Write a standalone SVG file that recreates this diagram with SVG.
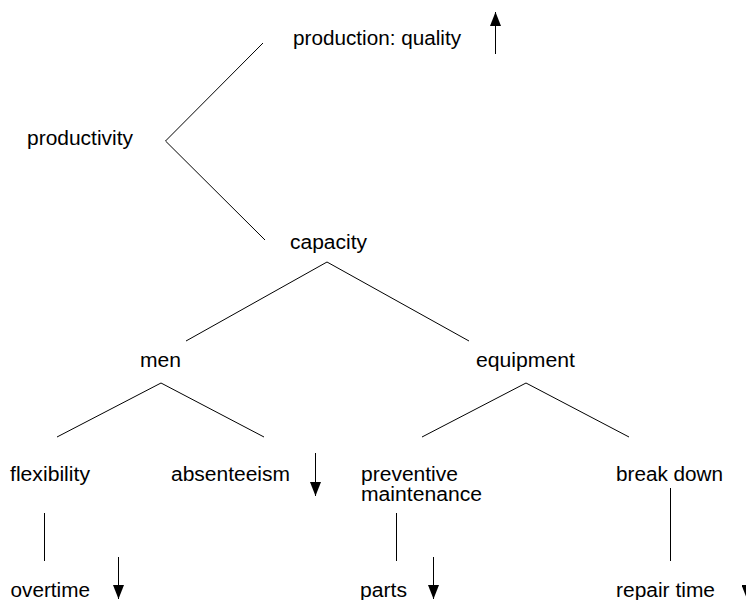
<svg xmlns="http://www.w3.org/2000/svg" width="746" height="600" viewBox="0 0 746 600">
<defs>
<marker id="ah" markerUnits="userSpaceOnUse" markerWidth="14" markerHeight="11" refX="14" refY="5.5" orient="auto" viewBox="0 0 14 11">
<path d="M0,0 L14,5.5 L0,11 z" fill="#000"/>
</marker>
</defs>
<style>
text{font-family:"Liberation Sans",Arial,sans-serif;font-size:20px;fill:#000}
.c line,.c polyline{stroke:#000;stroke-width:1;fill:none}
.a{marker-end:url(#ah)}
</style>
<rect width="746" height="600" fill="#fff"/>
<g class="c" id="connectors">
<polyline points="263,43 165.5,141 265,240"/>
<polyline points="186,341 327,262 469,341"/>
<polyline points="57,437 161,383 264,437"/>
<polyline points="422,437 526,383 629,437"/>
<line x1="44.5" y1="513" x2="44.5" y2="561"/>
<line x1="396.5" y1="513" x2="396.5" y2="561"/>
<line x1="670.5" y1="488" x2="670.5" y2="561"/>
<line class="a" x1="495.5" y1="54" x2="495.5" y2="12"/>
<line class="a" x1="315.5" y1="453" x2="315.5" y2="496"/>
<line class="a" x1="118.5" y1="557" x2="118.5" y2="599"/>
<line class="a" x1="433.5" y1="557" x2="433.5" y2="599"/>
<line class="a" x1="747" y1="557" x2="747" y2="599"/>
</g>
<g id="n-quality"><text x="293" y="45" textLength="168" lengthAdjust="spacingAndGlyphs">production: quality</text></g>
<g id="n-productivity"><text x="27" y="145" textLength="106" lengthAdjust="spacingAndGlyphs">productivity</text></g>
<g id="n-capacity"><text x="290" y="249" textLength="77" lengthAdjust="spacingAndGlyphs">capacity</text></g>
<g id="n-men"><text x="140" y="367" textLength="41" lengthAdjust="spacingAndGlyphs">men</text></g>
<g id="n-equipment"><text x="476" y="367" textLength="99" lengthAdjust="spacingAndGlyphs">equipment</text></g>
<g id="n-flexibility"><text x="10" y="481" textLength="80" lengthAdjust="spacingAndGlyphs">flexibility</text></g>
<g id="n-absenteeism"><text x="171" y="481" textLength="119" lengthAdjust="spacingAndGlyphs">absenteeism</text></g>
<g id="n-preventive"><text x="361" y="481" textLength="97" lengthAdjust="spacingAndGlyphs">preventive</text><text x="361" y="501" textLength="121" lengthAdjust="spacingAndGlyphs">maintenance</text></g>
<g id="n-breakdown"><text x="616" y="481" textLength="107" lengthAdjust="spacingAndGlyphs">break down</text></g>
<g id="n-overtime"><text x="10.5" y="597" textLength="79.5" lengthAdjust="spacingAndGlyphs">overtime</text></g>
<g id="n-parts"><text x="360" y="597" textLength="47" lengthAdjust="spacingAndGlyphs">parts</text></g>
<g id="n-repair"><text x="616" y="597" textLength="99" lengthAdjust="spacingAndGlyphs">repair time</text></g>
</svg>
